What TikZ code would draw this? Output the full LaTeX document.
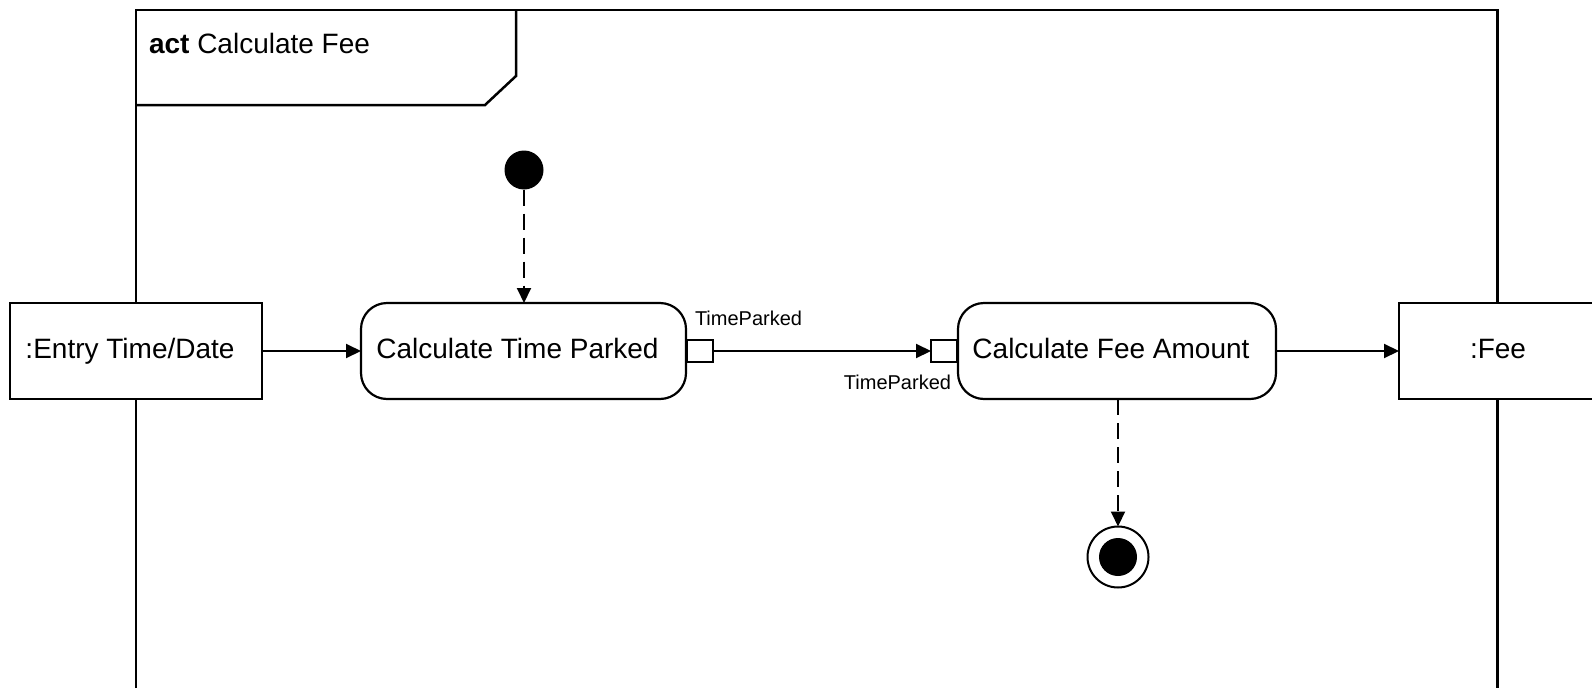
\documentclass[tikz,border=0pt]{standalone}
\usepackage{fontspec}
\setmainfont{Liberation Sans}
\usetikzlibrary{arrows.meta}
\begin{document}
\begin{tikzpicture}[x=1pt,y=-1pt,
  every node/.style={inner sep=0pt, outer sep=0pt},
  txt/.style={font=\fontsize{28}{32}\selectfont},
  small/.style={font=\fontsize{20}{24}\selectfont},
  boxtext/.style={txt, text height=20pt, text depth=5pt},
  leftish/.style={execute at end node={\hspace*{12pt}}},
  objbox/.style={boxtext, draw, fill=white, line width=2.2pt, minimum height=96pt},
  actbox/.style={boxtext, leftish, draw, fill=white, line width=2.2pt, minimum height=96pt, rounded corners=26pt},
  pinbox/.style={draw, fill=white, line width=2pt, minimum width=26pt, minimum height=22pt},
  flow/.style={line width=2pt, -{Triangle[length=15pt,width=14pt]}},
  ctrl/.style={flow, dash pattern=on 16pt off 8pt}]
\useasboundingbox (0,0) rectangle (1592,688);
% activity frame and its name tab
\draw[line width=2.5pt] (136,688) -- (136,10) -- (1497.5,10) -- (1497.5,688);
\draw[line width=2.5pt] (136,105) -- (485,105) -- (516,76) -- (516,10);
\node[txt, anchor=west] (title) at (149,43) {\textbf{act} Calculate Fee};
% nodes
\node[objbox, leftish, minimum width=252pt] (entry) at (136,351) {:Entry Time/Date};
\node[actbox, minimum width=325pt] (ctp) at (523.5,351) {Calculate Time Parked};
\node[actbox, minimum width=318pt] (cfa) at (1117,351) {Calculate Fee Amount};
\node[objbox, minimum width=198pt] (fee) at (1498,351) {:Fee};
\node[pinbox] (pout) at (699.5,351) {};
\node[pinbox] (pin) at (944,351) {};
\node[small, anchor=west] (lout) at (695,318) {TimeParked};
\node[small, anchor=east] (lin) at (951,382) {TimeParked};
\node[circle, fill, minimum size=39pt] (init) at (524,170) {};
\node[circle, draw, fill=white, line width=2pt, minimum size=61pt] (final) at (1118,557) {};
\node[circle, fill, minimum size=38pt] (finaldot) at (final) {};
% connectors
\draw[ctrl] (init) -- (init |- ctp.north);
\draw[flow] (entry) -- (ctp);
\draw[flow] (pout) -- (pin);
\draw[flow] (cfa) -- (fee);
\draw[ctrl] (cfa.south -| final) -- (final);
\end{tikzpicture}
\end{document}
